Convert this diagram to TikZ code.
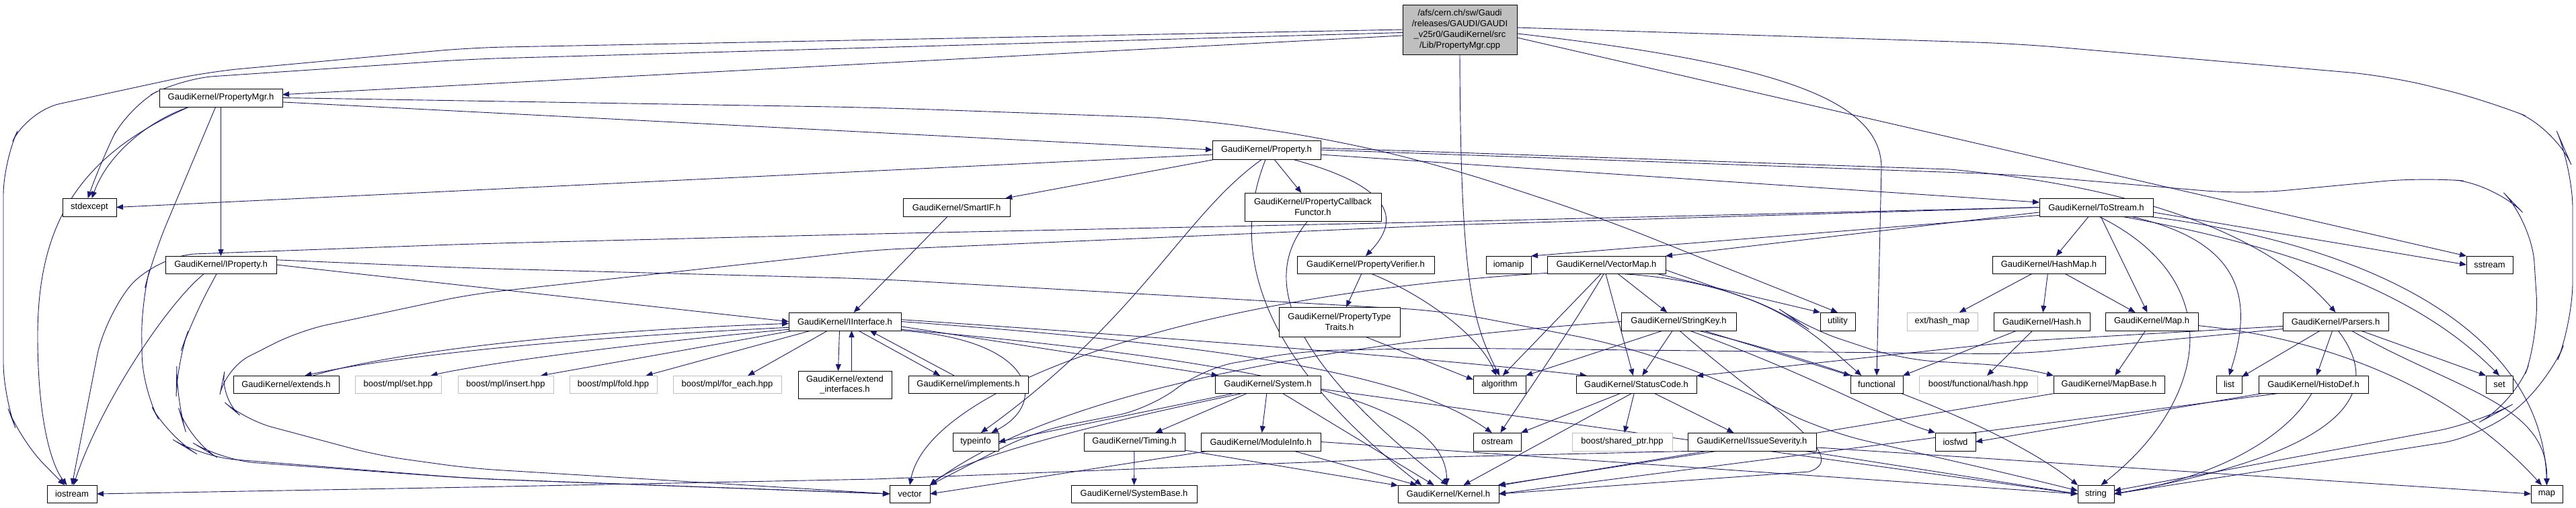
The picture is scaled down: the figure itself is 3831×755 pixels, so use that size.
\documentclass[tikz,border=0pt]{standalone}
\usepackage{fontspec}
\setmainfont{Liberation Sans}
\usetikzlibrary{arrows.meta}
\definecolor{edgeblue}{HTML}{191970}
\definecolor{gbord}{HTML}{BFBFBF}
\definecolor{topgray}{HTML}{BFBFBF}
\pgfdeclarelayer{bg}
\pgfsetlayers{bg,main}
\tikzset{
 nb/.style={draw=black, line width=1pt, fill=white, inner sep=0pt, outer sep=0pt, font=\fontsize{13}{15.8}\selectfont, align=center, minimum height=27pt},
 gb/.style={nb, draw=gbord},
 edge/.style={draw=edgeblue, line width=0.9pt, -{Triangle[length=10pt,width=8pt]}},
 route/.style={rounded corners=50pt},
}
\begin{document}
\begin{tikzpicture}[x=1pt,y=-1pt]
\useasboundingbox (0,0) rectangle (3831,755);
% ---------------- nodes
\node[nb, fill=topgray, minimum width=170pt, minimum height=74pt] (top) at (2171,44) {/afs/cern.ch/sw/Gaudi\\/releases/GAUDI/GAUDI\\\_v25r0/GaudiKernel/src\\/Lib/PropertyMgr.cpp};
\node[nb, minimum width=183pt] (pmgr) at (328.5,145.5) {GaudiKernel/PropertyMgr.h};
\node[nb, minimum width=161pt, minimum height=28pt] (prop) at (1883.5,223) {GaudiKernel/Property.h};
\node[nb, minimum width=80pt] (stdexcept) at (133,308.5) {stdexcept};
\node[nb, minimum width=159pt] (smartif) at (1422.5,308.5) {GaudiKernel/SmartIF.h};
\node[nb, minimum width=203pt, minimum height=42pt] (pcf) at (1952.5,308) {GaudiKernel/PropertyCallback\\Functor.h};
\node[nb, minimum width=169pt] (tostream) at (3117.5,308.5) {GaudiKernel/ToStream.h};
\node[nb, minimum width=165pt, minimum height=26pt] (iprop) at (328.5,394) {GaudiKernel/IProperty.h};
\node[nb, minimum width=204pt, minimum height=26pt] (pverif) at (2031,394) {GaudiKernel/PropertyVerifier.h};
\node[nb, minimum width=67pt, minimum height=26pt] (iomanip) at (2243.5,394) {iomanip};
\node[nb, minimum width=176pt, minimum height=26pt] (vmap) at (2389,394) {GaudiKernel/VectorMap.h};
\node[nb, minimum width=168pt, minimum height=26pt] (hashmap) at (3047,394) {GaudiKernel/HashMap.h};
\node[nb, minimum width=69pt, minimum height=26pt] (sstream) at (3702.5,394) {sstream};
\node[nb, minimum width=167pt] (iinterface) at (1256.5,478.5) {GaudiKernel/IInterface.h};
\node[nb, minimum width=180pt, minimum height=44pt] (ptt) at (1992,479) {GaudiKernel/PropertyType\\Traits.h};
\node[nb, minimum width=171pt] (strkey) at (2496.5,478.5) {GaudiKernel/StringKey.h};
\node[nb, minimum width=52pt] (utility) at (2733,478.5) {utility};
\node[gb, minimum width=105pt] (exthash) at (2888.5,478.5) {ext/hash\_map};
\node[nb, minimum width=143pt] (hash) at (3036.5,478.5) {GaudiKernel/Hash.h};
\node[nb, minimum width=138pt] (mapH) at (3200,478.5) {GaudiKernel/Map.h};
\node[nb, minimum width=157pt] (parsers) at (3473.5,478.5) {GaudiKernel/Parsers.h};
\node[nb, minimum width=157pt, minimum height=26pt] (extends) at (425.5,572) {GaudiKernel/extends.h};
\node[gb, minimum width=128pt, minimum height=26pt] (mplset) at (592,572) {boost/mpl/set.hpp};
\node[gb, minimum width=142pt, minimum height=26pt] (mplinsert) at (752,572) {boost/mpl/insert.hpp};
\node[gb, minimum width=130pt, minimum height=26pt] (mplfold) at (912,572) {boost/mpl/fold.hpp};
\node[gb, minimum width=161pt, minimum height=26pt] (mplforeach) at (1081.5,572) {boost/mpl/for\_each.hpp};
\node[nb, minimum width=139pt, minimum height=41pt] (extif) at (1256.5,572.5) {GaudiKernel/extend\\\_interfaces.h};
\node[nb, minimum width=178pt, minimum height=26pt] (implements) at (1440,572) {GaudiKernel/implements.h};
\node[nb, minimum width=157pt, minimum height=26pt] (system) at (1885.5,572) {GaudiKernel/System.h};
\node[nb, minimum width=78pt, minimum height=26pt] (algorithm) at (2230,572) {algorithm};
\node[nb, minimum width=179pt, minimum height=26pt] (statuscode) at (2433.5,572) {GaudiKernel/StatusCode.h};
\node[nb, minimum width=78pt, minimum height=26pt] (functional) at (2791,572) {functional};
\node[gb, minimum width=176pt, minimum height=26pt] (boosthash) at (2942,572) {boost/functional/hash.hpp};
\node[nb, minimum width=165pt, minimum height=26pt] (mapbase) at (3136.5,572) {GaudiKernel/MapBase.h};
\node[nb, minimum width=38pt, minimum height=26pt] (nlist) at (3315,572) {list};
\node[nb, minimum width=163pt, minimum height=26pt] (histodef) at (3440.5,572) {GaudiKernel/HistoDef.h};
\node[nb, minimum width=40pt, minimum height=26pt] (nset) at (3717,572) {set};
\node[nb, minimum width=68pt] (typeinfo) at (1451,657.5) {typeinfo};
\node[nb, minimum width=150pt] (timing) at (1687,657.5) {GaudiKernel/Timing.h};
\node[nb, minimum width=178pt] (moduleinfo) at (1875,657.5) {GaudiKernel/ModuleInfo.h};
\node[nb, minimum width=71pt] (ostream) at (2226.5,657.5) {ostream};
\node[gb, minimum width=149pt] (sharedptr) at (2412.5,657.5) {boost/shared\_ptr.hpp};
\node[nb, minimum width=191pt] (issue) at (2605.5,657.5) {GaudiKernel/IssueSeverity.h};
\node[nb, minimum width=60pt] (iosfwd) at (2908,657.5) {iosfwd};
\node[nb, minimum width=74pt, minimum height=26pt] (iostream) at (107,735) {iostream};
\node[nb, minimum width=60pt, minimum height=26pt] (vector) at (1353,735) {vector};
\node[nb, minimum width=187pt, minimum height=26pt] (systembase) at (1686.5,735) {GaudiKernel/SystemBase.h};
\node[nb, minimum width=150pt, minimum height=26pt] (kernel) at (2154,735) {GaudiKernel/Kernel.h};
\node[nb, minimum width=54pt, minimum height=26pt] (nstring) at (3117,735) {string};
\node[nb, minimum width=47pt, minimum height=26pt] (nmap) at (3787.5,735) {map};
% ---------------- edges
\begin{pgfonlayer}{bg}
\fill[white] (0,0) rectangle (3831,755);
% top file
\draw[edge] (top.186) -- (pmgr);
\draw[edge, route] (top.183) -- (700,88) -- (268,117) -- (190,160) -- (150,240) -- (stdexcept.100);
\draw[edge, route] (top.180) -- (700,71) -- (308,107) -- (40,165) -- (5,240) -- (5,590) -- (30,655) -- (iostream.130);
\draw[edge] (top.south) .. controls (2172,420) and (2190,480) .. (algorithm.north);
\draw[edge] (top.-4) .. controls (2650,95) and (2798,150) .. (2798,250) -- (functional.north);
\draw[edge] (top.-8) -- (sstream.north west);
\draw[edge, rounded corners=60pt] (top.2) -- (3000,65) -- (3553,113) -- (3700,150) -- (3800,190) -- (3826,250) -- (3826,480) -- (3790,570) -- (3690,650) -- (nstring.east);
% PropertyMgr.h
\draw[edge] (pmgr.-4) -- (prop.west);
\draw[edge, rounded corners=80pt] (pmgr.east) -- (1300,160) -- (1777,177) -- (1978,207) -- (2150,248) -- (2378,323) -- (utility.north);
\draw[edge] (pmgr) -- (iprop);
\draw[edge] (pmgr.-164) .. controls (220,180) and (160,230) .. (stdexcept.75);
\draw[edge] (pmgr.-164) .. controls (120,230) and (56,330) .. (56,500) .. controls (56,620) and (75,690) .. (iostream.120);
\draw[edge, route] (pmgr.-120) -- (228,380) -- (210,450) -- (212,580) -- (250,650) -- (300,680) -- (700,712) -- (vector.west);
% Property.h
\draw[edge] (prop.185) -- (stdexcept.east);
\draw[edge] (prop) -- (smartif);
\draw[edge] (prop.-115) .. controls (1760,320) and (1700,470) .. (typeinfo.60);
\draw[edge] (prop.-95) .. controls (1825,380) and (1880,540) .. (kernel.162);
\draw[edge] (prop) -- (pcf);
\draw[edge] (prop.-20) .. controls (2080,280) and (2080,330) .. (pverif.north);
\draw[edge] (prop.-5) -- (tostream.175);
\draw[edge] (prop.2) -- (2900,252) .. controls (3250,285) and (3400,380) .. (parsers.north);
\draw[edge, rounded corners=60pt] (prop.east) -- (3000,260) -- (3339,289) -- (3604,264) -- (3710,273) -- (3765,330) -- (3776,500) -- (3740,600) -- (3684,630) -- (nstring.10);
% SmartIF, PropertyCallbackFunctor, PropertyVerifier, PropertyTypeTraits
\draw[edge] (smartif) -- (iinterface);
\draw[edge] (pcf.-110) .. controls (1860,430) and (1950,560) .. (kernel.95);
\draw[edge] (pverif) -- (ptt);
\draw[edge] (pverif.-60) .. controls (2120,440) and (2200,500) .. (algorithm.110);
\draw[edge] (ptt.-30) -- (algorithm.170);
% IProperty.h
\draw[edge] (iprop.east) -- (iinterface.west);
\draw[edge, rounded corners=60pt] (iprop.5) -- (700,399) -- (1300,415) -- (2150,463) -- (2405,512) -- (2551,562) -- (2714,642) -- (3000,708) -- (nstring.170);
\draw[edge] (iprop.-152) .. controls (250,450) and (150,600) .. (iostream.80);
\draw[edge, route] (iprop.-115) -- (286,475) -- (263,540) -- (262,595) -- (280,655) -- (330,685) -- (700,712) -- (vector.west);
% IInterface.h
\draw[edge] (iinterface.186) .. controls (800,505) and (560,535) .. (extends.25);
\draw[edge] (extends.18) .. controls (560,530) and (800,495) .. (iinterface.182);
\draw[edge] (iinterface.-172) .. controls (900,515) and (700,545) .. (mplset.15);
\draw[edge] (iinterface.-170) -- (mplinsert.14);
\draw[edge] (iinterface.-165) -- (mplfold.15);
\draw[edge] (iinterface.-152) -- (mplforeach.23);
\draw[edge] ([xshift=-8pt]iinterface.south) -- ([xshift=-10pt]extif.north);
\draw[edge] ([xshift=10pt]extif.north) -- ([xshift=10pt]iinterface.south);
\draw[edge] ([xshift=20pt]iinterface.south) -- ([xshift=-42pt]implements.north);
\draw[edge] ([xshift=-21pt]implements.north) -- ([xshift=37pt]iinterface.south);
\draw[edge] (iinterface.south east) .. controls (1540,505) and (1560,600) .. (typeinfo.30);
\draw[edge] (iinterface.-5) -- (system.170);
\draw[edge] (iinterface.2) .. controls (1700,500) and (2100,530) .. (statuscode.170);
\draw[edge] (iinterface.0) .. controls (1850,515) and (2100,560) .. (ostream.120);
\draw[edge] (iinterface.-8) .. controls (1900,540) and (2150,600) .. (kernel.100);
% System.h, Timing.h, ModuleInfo.h
\draw[edge] (system.-165) -- (typeinfo.east);
\draw[edge] (system.-160) .. controls (1580,640) and (1420,690) .. (vector.north east);
\draw[edge] (system) -- (timing);
\draw[edge] (system) -- (moduleinfo);
\draw[edge] (system) -- (kernel);
\draw[edge] (system.-5) -- (nstring.west);
\draw[edge] (timing) -- (systembase);
\draw[edge] (timing) -- (kernel);
\draw[edge] (moduleinfo) -- (kernel);
\draw[edge] (moduleinfo.-170) -- (vector.east);
\draw[edge] (moduleinfo.east) -- (nstring.west);
% ToStream.h
\draw[edge, rounded corners=60pt] (tostream.west) -- (2150,330) -- (1300,348) -- (700,363) -- (232,380) -- (156,470) -- (iostream.north);
\draw[edge, rounded corners=40pt] (tostream.west) -- (2150,335) -- (1300,372) -- (700,438) -- (446,492) -- (335,548) -- (326,592) -- (365,625) -- (563,678) -- (700,697) -- (vector.west);
\draw[edge] (tostream.-172) -- (iomanip.north east);
\draw[edge] (tostream.-175) -- (vmap.north east);
\draw[edge] (tostream) -- (hashmap);
\draw[edge] (tostream) -- (mapH);
\draw[edge] (tostream.-75) .. controls (3320,420) and (3280,600) .. (nstring.60);
\draw[edge] (tostream.-15) .. controls (3340,360) and (3350,450) .. (nlist.north);
\draw[edge] (tostream.-20) .. controls (3420,370) and (3600,440) .. (nset.north);
\draw[edge] (tostream.-10) .. controls (3500,360) and (3780,480) .. (nmap.north);
\draw[edge] (tostream.-5) -- (sstream.west);
% VectorMap.h
\draw[edge] (vmap.-172) .. controls (1750,440) and (1380,580) .. (vector.north);
\draw[edge] (vmap.-120) -- (algorithm.70);
\draw[edge] (vmap.-105) .. controls (2330,500) and (2260,600) .. (ostream.70);
\draw[edge] (vmap.-95) -- (statuscode.110);
\draw[edge] (vmap) -- (strkey);
\draw[edge] (vmap.-40) .. controls (2630,420) and (2700,500) .. (functional.150);
\draw[edge] (vmap.-10) -- (utility.north west);
\draw[edge, route] (vmap.-5) -- (2649,462) -- (2687,488) -- (2828,535) -- (3000,545) -- (mapbase.north west);
% StringKey.h
\draw[edge] (strkey.-150) -- (algorithm.north east);
\draw[edge] (strkey) -- (statuscode);
\draw[edge] (strkey.-85) .. controls (2620,600) and (2760,680) .. (2690,702) -- (kernel.east);
\draw[edge] (strkey.-40) .. controls (2700,560) and (2800,620) .. (iosfwd.north west);
\draw[edge] (strkey.-20) -- (functional.north west);
\draw[edge] (strkey.-25) .. controls (2800,560) and (3000,650) .. (nstring.north west);
\draw[edge] (strkey.west) .. controls (2100,500) and (1600,560) .. (vector.north east);
% StatusCode.h, IssueSeverity.h
\draw[edge] (statuscode.-150) -- (ostream.north east);
\draw[edge] (statuscode) -- (sharedptr);
\draw[edge] (statuscode) -- (issue);
\draw[edge] (statuscode.-115) -- (kernel.30);
\draw[edge] (issue.-165) -- (kernel.10);
\draw[edge] (issue.-5) -- (nmap.west);
\draw[edge] (issue.-10) -- (nstring.west);
\draw[edge] (issue.-170) -- (2150,680) -- (1300,713) -- (700,725) -- (iostream.east);
% HashMap.h, Hash.h, Map.h, MapBase.h
\draw[edge] (hashmap) -- (exthash);
\draw[edge] (hashmap) -- (hash);
\draw[edge] (hashmap) -- (mapH);
\draw[edge] (hash.-160) -- (functional.north east);
\draw[edge] (hash) -- (boosthash);
\draw[edge] (mapH) -- (mapbase);
\draw[edge] (mapH.-5) .. controls (3470,505) and (3650,580) .. (nmap.120);
\draw[edge] (mapbase) -- (kernel);
% Parsers.h, HistoDef.h
\draw[edge] (parsers.-175) -- (3000,508) -- (statuscode.8);
\draw[edge, route] (parsers.-172) -- (3000,527) -- (2150,518) -- (1940,522) -- (1788,548) -- (1712,608) -- (1538,642) -- (vector.north east);
\draw[edge] (parsers) -- (nlist);
\draw[edge] (parsers) -- (histodef);
\draw[edge] (parsers.-75) .. controls (3560,600) and (3450,680) .. (nstring.east);
\draw[edge] (parsers.-20) -- (nset.north west);
\draw[edge] (parsers.-30) .. controls (3650,580) and (3790,600) .. (nmap.north);
\draw[edge] (histodef.-100) .. controls (3400,650) and (3300,710) .. (nstring.east);
\draw[edge] (histodef.-170) -- (iosfwd.east);
\draw[edge] (histodef.-165) -- (kernel.east);
\end{pgfonlayer}
\end{tikzpicture}
\end{document}
